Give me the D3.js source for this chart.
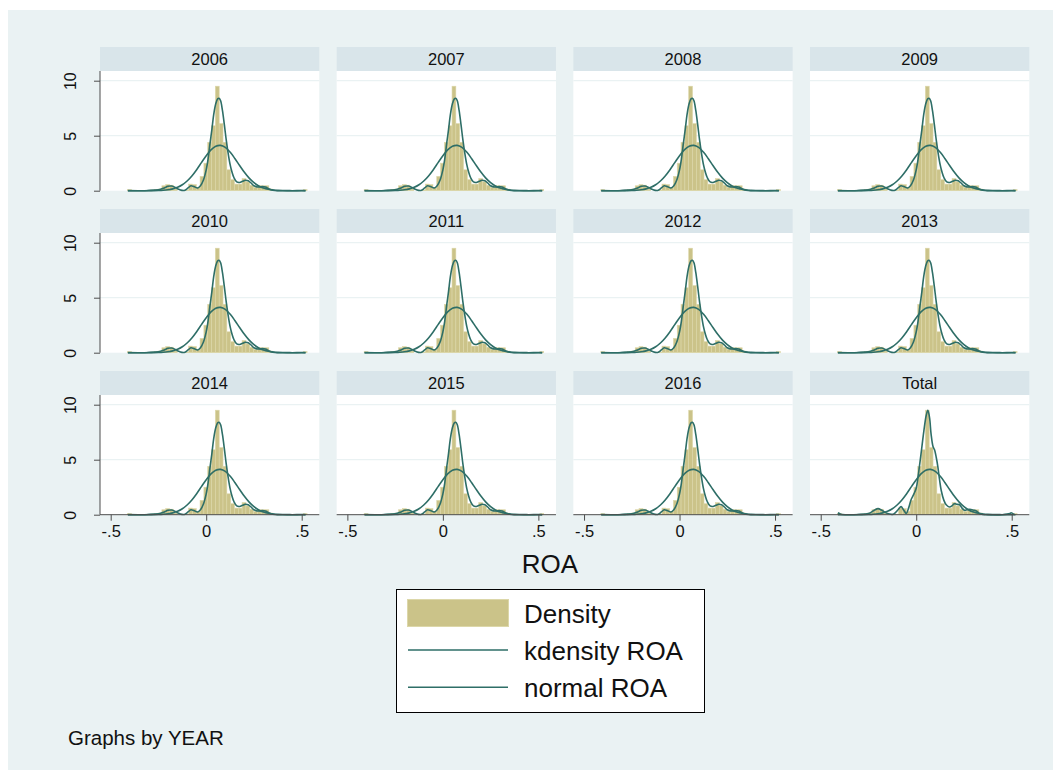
<!DOCTYPE html>
<html>
<head>
<meta charset="utf-8">
<script src="https://cdn.jsdelivr.net/npm/d3@7"></script>
<style>
  body { margin: 0; background: #fff; }
  svg { display: block; font-family: "Liberation Sans", Arial, sans-serif; }
</style>
</head>
<body>
<div id="chart"></div>
<script>
// panels, in reading order
const panels = ['2006', '2007', '2008', '2009', '2010', '2011', '2012', '2013', '2014', '2015', '2016', 'Total'];

const xTicks = [-0.5, 0, 0.5];
const xTickLabels = ['-.5', '0', '.5'];
const yTicks = [0, 5, 10];

// histogram (density), bins of width 0.02 starting at -0.412
const binStart = -0.412;
const binWidth = 0.02;
const histDensity = [
  0.1, 0, 0, 0, 0, 0, 0.05, 0.1, 0.15, 0.45,
  0.55, 0.5, 0.15, 0, 0, 0.05, 0.6, 0.55, 0.3, 1.3,
  2.5, 4.4, 5.9, 9.5, 6.1, 4.4, 1.9, 1.0, 0.6, 0.6,
  1.1, 0.8, 0.5, 0.3, 0.45, 0.45, 0.45, 0.15, 0, 0,
  0, 0, 0, 0, 0, 0, 0.1
];

// kernel density, per year panels
const kdenX = [-0.41, -0.35, -0.3, -0.25, -0.22, -0.2, -0.18, -0.16, -0.14, -0.115,
  -0.095, -0.08, -0.065, -0.045, -0.03, -0.015, 0, 0.01, 0.02, 0.03,
  0.04, 0.05, 0.06, 0.067, 0.075, 0.085, 0.095, 0.105, 0.115, 0.125,
  0.135, 0.145, 0.16, 0.175, 0.19, 0.205, 0.22, 0.235, 0.25, 0.265,
  0.28, 0.295, 0.31, 0.325, 0.34, 0.36, 0.4, 0.45, 0.5, 0.52];
const kdenY = [0.01, 0, 0.02, 0.08, 0.25, 0.4, 0.42, 0.28, 0.1, 0.02,
  0.25, 0.45, 0.38, 0.25, 0.45, 0.95, 1.9, 2.9, 4.3, 5.6,
  7.0, 7.9, 8.35, 8.4, 8.2, 7.3, 6.0, 4.6, 3.4, 2.4,
  1.7, 1.2, 0.8, 0.75, 0.85, 0.95, 0.9, 0.7, 0.45, 0.35,
  0.35, 0.38, 0.33, 0.2, 0.08, 0.02, 0, 0, 0.02, 0.01];

// kernel density, Total panel
const kdenTotalX = [-0.41, -0.395, -0.37, -0.3, -0.25, -0.22, -0.2, -0.18, -0.15, -0.12,
  -0.095, -0.079, -0.065, -0.052, -0.04, -0.026, -0.012, 0, 0.01, 0.025,
  0.04, 0.052, 0.061, 0.07, 0.078, 0.088, 0.096, 0.105, 0.113, 0.122,
  0.131, 0.145, 0.157, 0.174, 0.19, 0.2, 0.213, 0.227, 0.24, 0.253,
  0.266, 0.279, 0.292, 0.305, 0.318, 0.331, 0.35, 0.366, 0.45, 0.49,
  0.497, 0.505, 0.515];
const kdenTotalY = [0.18, 0.05, 0, 0.02, 0.1, 0.4, 0.55, 0.4, 0.1, 0.05,
  0.45, 0.73, 0.4, 0.12, 0.6, 1.4, 1.9, 2.4, 3.5, 5.5,
  7.6, 9.0, 9.5, 8.8, 7.3, 6.2, 5.9, 5.2, 4.4, 3.2,
  2.2, 1.3, 0.9, 0.7, 0.85, 1.0, 0.95, 0.9, 0.6, 0.4,
  0.45, 0.5, 0.45, 0.4, 0.3, 0.1, 0.02, 0, 0, 0.1,
  0.18, 0.1, 0.02];

// normal density overlay
const normX = [-0.41, -0.375, -0.35, -0.325, -0.3, -0.275, -0.25, -0.225, -0.2, -0.175,
  -0.15, -0.125, -0.1, -0.075, -0.05, -0.025, 0, 0.025, 0.05, 0.075,
  0.1, 0.125, 0.15, 0.175, 0.2, 0.225, 0.25, 0.275, 0.3, 0.325,
  0.35, 0.375, 0.4, 0.425, 0.45, 0.475, 0.52];
const normY = [0, 0, 0, 0.001, 0.003, 0.007, 0.017, 0.039, 0.083, 0.166,
  0.31, 0.54, 0.88, 1.34, 1.91, 2.55, 3.18, 3.71, 4.04, 4.12,
  3.94, 3.51, 2.93, 2.29, 1.67, 1.14, 0.73, 0.43, 0.24, 0.127,
  0.062, 0.028, 0.012, 0.005, 0.002, 0.001, 0];

const legendItems = ['Density', 'kdensity ROA', 'normal ROA'];

// layout
const W = 1053, H = 771;
const bgColor = '#eaf2f3';
const headColor = '#d9e5ea';
const barFill = '#cbc389';
const barStroke = '#dcd7a9';
const lineColor = '#2e6e67';
const axisColor = '#4d4d4d';

const colX0 = 100, colStep = 236.67, panelW = 219.3;
const rowY0 = 47, rowStep = 162, headH = 24, plotH = 119.7;

const svg = d3.select('#chart').append('svg')
  .attr('width', W).attr('height', H);

svg.append('rect')
  .attr('x', 8).attr('y', 10)
  .attr('width', W - 8).attr('height', 760)
  .attr('fill', bgColor);

const x = d3.scaleLinear().domain([-0.5, 0.5]).range([10.7, 201.7]);
const y = d3.scaleLinear().domain([0, 10]).range([plotH, plotH - 110]);

const bins = histDensity.map((d, i) => ({ x0: binStart + i * binWidth, x1: binStart + (i + 1) * binWidth, v: d }));

const line = d3.line()
  .x(d => x(d[0]))
  .y(d => y(d[1]))
  .curve(d3.curveCatmullRom.alpha(0.5));

const kdenPts = d3.zip(kdenX, kdenY);
const kdenTotalPts = d3.zip(kdenTotalX, kdenTotalY);
const normPts = d3.zip(normX, normY);

panels.forEach((name, i) => {
  const c = i % 4, r = Math.floor(i / 4);
  const g = svg.append('g')
    .attr('transform', `translate(${colX0 + c * colStep},${rowY0 + r * rowStep})`);

  // header strip
  g.append('rect')
    .attr('width', panelW).attr('height', headH)
    .attr('fill', headColor);
  g.append('text')
    .attr('x', panelW / 2).attr('y', 18)
    .attr('text-anchor', 'middle')
    .attr('font-size', 16.5)
    .attr('fill', '#111')
    .text(name);

  const p = g.append('g').attr('transform', `translate(0,${headH})`);

  p.append('rect')
    .attr('width', panelW).attr('height', plotH)
    .attr('fill', '#fff');

  // gridlines
  p.selectAll('.grid')
    .data(yTicks.filter(t => t > 0))
    .join('line')
    .attr('x1', 0).attr('x2', panelW)
    .attr('y1', d => y(d)).attr('y2', d => y(d))
    .attr('stroke', bgColor)
    .attr('stroke-width', 1.2);

  // histogram
  p.selectAll('.bar')
    .data(bins.filter(b => b.v > 0))
    .join('rect')
    .attr('x', d => x(d.x0))
    .attr('y', d => y(d.v))
    .attr('width', d => x(d.x1) - x(d.x0))
    .attr('height', d => y(0) - y(d.v))
    .attr('fill', barFill)
    .attr('stroke', barStroke)
    .attr('stroke-width', 0.6);

  p.append('path')
    .attr('d', line(normPts))
    .attr('fill', 'none')
    .attr('stroke', lineColor)
    .attr('stroke-width', 1.6);

  p.append('path')
    .attr('d', line(name === 'Total' ? kdenTotalPts : kdenPts))
    .attr('fill', 'none')
    .attr('stroke', lineColor)
    .attr('stroke-width', 1.6);

  // y axis on first column
  if (c === 0) {
    const ya = p.append('g')
      .call(d3.axisLeft(y).tickValues(yTicks).tickSize(6).tickSizeOuter(0));
    ya.select('.domain').attr('stroke', axisColor).attr('d', `M0,0V${plotH}`);
    ya.selectAll('.tick line').attr('stroke', axisColor);
    ya.selectAll('.tick text')
      .attr('font-size', 16)
      .attr('fill', '#111')
      .attr('font-family', '"Liberation Sans", Arial, sans-serif')
      .attr('text-anchor', 'middle')
      .attr('dy', 0)
      .attr('x', 0).attr('y', 0)
      .attr('transform', 'translate(-24,0) rotate(-90)');
  }

  // x axis on bottom panels
  if (r === 2) {
    const xa = p.append('g')
      .attr('transform', `translate(0,${plotH})`)
      .call(d3.axisBottom(x).tickValues(xTicks)
        .tickFormat((d, k) => xTickLabels[k]).tickSize(6).tickSizeOuter(0));
    xa.select('.domain').attr('stroke', axisColor).attr('d', `M0,0H${panelW}`);
    xa.selectAll('.tick line').attr('stroke', axisColor);
    xa.selectAll('.tick text')
      .attr('font-size', 16.5)
      .attr('fill', '#111')
      .attr('font-family', '"Liberation Sans", Arial, sans-serif')
      .attr('y', 22).attr('dy', 0);
  }
});

// axis title
svg.append('text')
  .attr('x', 550).attr('y', 573)
  .attr('text-anchor', 'middle')
  .attr('font-size', 26)
  .attr('fill', '#111')
  .text('ROA');

// legend
const lg = svg.append('g');
lg.append('rect')
  .attr('x', 396.5).attr('y', 589.5)
  .attr('width', 308).attr('height', 123)
  .attr('fill', '#fff').attr('stroke', '#000').attr('stroke-width', 1);

lg.append('rect')
  .attr('x', 407.5).attr('y', 599.5)
  .attr('width', 101).attr('height', 27)
  .attr('fill', barFill).attr('stroke', barStroke).attr('stroke-width', 1);

[650, 687.3].forEach(yy => {
  lg.append('line')
    .attr('x1', 408).attr('x2', 508)
    .attr('y1', yy).attr('y2', yy)
    .attr('stroke', lineColor).attr('stroke-width', 1.6);
});

lg.selectAll('.ltxt')
  .data(legendItems)
  .join('text')
  .attr('x', 524)
  .attr('y', (d, k) => 622.5 + k * 37)
  .attr('font-size', 26)
  .attr('fill', '#111')
  .text(d => d);

svg.append('text')
  .attr('x', 68).attr('y', 745)
  .attr('font-size', 20.5)
  .attr('fill', '#111')
  .text('Graphs by YEAR');
</script>
</body>
</html>
